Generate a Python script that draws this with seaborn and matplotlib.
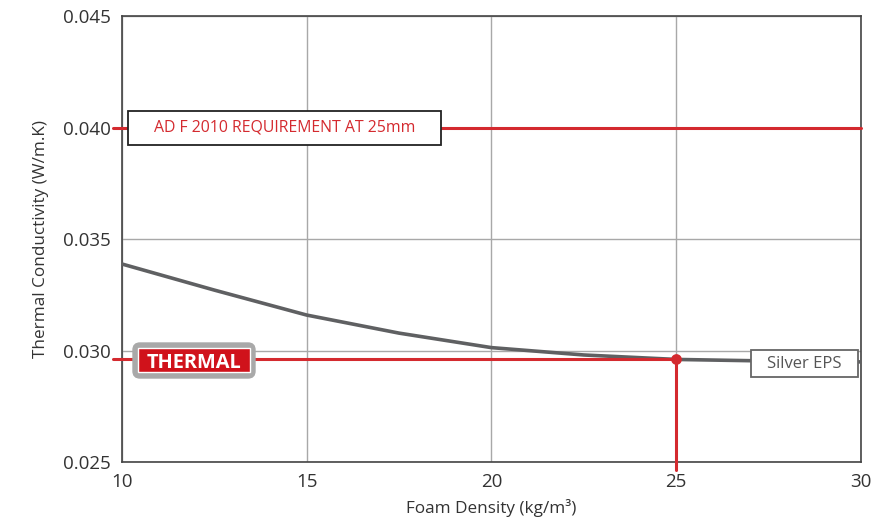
import numpy as np
import pandas as pd
import matplotlib
matplotlib.use('Agg')
import matplotlib.pyplot as plt
from matplotlib.patches import Rectangle, FancyBboxPatch
import seaborn as sns

# Dados
densidade = [10, 12.5, 15, 17.5, 20, 22.5, 25, 27.5, 30]
condutividade = [0.03388, 0.03271, 0.03159, 0.03078, 0.03013, 0.02980, 0.02960, 0.02953, 0.02949]
requisito = 0.040
ponto_x = 25
ponto_y = 0.0296
x_ticks = [10, 15, 20, 25, 30]
y_ticks = [0.025, 0.030, 0.035, 0.040, 0.045]

df = pd.DataFrame({'densidade': densidade, 'condutividade': condutividade})

sns.set_style('white')
plt.rcParams['font.family'] = ['Open Sans', 'DejaVu Sans']

vermelho = '#d42a2f'
cinza = '#5f6062'

fig = plt.figure(figsize=(8.71, 5.27), dpi=100)
ax = fig.add_axes([0.140, 0.1233, 0.8485, 0.8463])

ax.set_xlim(10, 30)
ax.set_ylim(0.025, 0.045)
ax.set_xticks(x_ticks)
ax.set_yticks(y_ticks)
ax.set_xticklabels([str(t) for t in x_ticks])
ax.set_yticklabels([f'{t:.3f}' for t in y_ticks])
ax.grid(True, color='#a8a8a8', linewidth=1)
ax.tick_params(length=0, labelsize=13.5, colors='#333333', pad=8)
for s in ax.spines.values():
    s.set_color('#444444')
    s.set_linewidth(1.2)

# Curva
sns.lineplot(data=df, x='densidade', y='condutividade', color=cinza, linewidth=2.6, ax=ax, zorder=3)

# Linhas vermelhas
ax.plot([9.76, 30], [requisito, requisito], color=vermelho, linewidth=2.2, clip_on=False, zorder=4)
ax.plot([9.76, ponto_x], [ponto_y, ponto_y], color=vermelho, linewidth=2.2, clip_on=False, zorder=4)
ax.plot([ponto_x, ponto_x], [ponto_y, 0.02464], color=vermelho, linewidth=2.2, clip_on=False, zorder=4)
ax.scatter([ponto_x], [ponto_y], color=vermelho, s=60, zorder=5, linewidths=0)

# Caixa do requisito
ax.add_patch(Rectangle((10.162, 0.03922), 8.47, 0.00152, fc='white', ec='#222222', lw=1.3, zorder=6))
ax.text(14.40, requisito, 'AD F 2010 REQUIREMENT AT 25mm', color=vermelho, fontsize=11.4,
        ha='center', va='center', zorder=7)

# Caixa Silver EPS
ax.add_patch(Rectangle((27.02, 0.02881), 2.9, 0.00121, fc='white', ec='#666666', lw=1.3, zorder=6))
ax.text(28.47, 0.02941, 'Silver EPS', color='#555555', fontsize=12,
        ha='center', va='center', zorder=7)

# Selo THERMAL (em polegadas da figura)
fig.add_artist(FancyBboxPatch((1.33, 1.49), 1.22, 0.35,
                              boxstyle='round,pad=0,rounding_size=0.07',
                              transform=fig.dpi_scale_trans,
                              fc='#a9a9a9', ec='#a9a9a9', lw=1, zorder=6))
fig.add_artist(Rectangle((1.38, 1.55), 1.12, 0.24, transform=fig.dpi_scale_trans,
                         fc='#d0121b', ec='white', lw=1, zorder=7))
fig.text(1.94 / 8.71, 1.67 / 5.27, 'THERMAL', color='white', fontsize=14.4, fontweight='bold',
         ha='center', va='center_baseline', zorder=8)

ax.set_xlabel('Foam Density (kg/m³)', fontsize=12.3, color='#333333', labelpad=6)
ax.set_ylabel('Thermal Conductivity (W/m.K)', fontsize=12.3, color='#333333', labelpad=10)

plt.savefig('out.png', dpi=100)
